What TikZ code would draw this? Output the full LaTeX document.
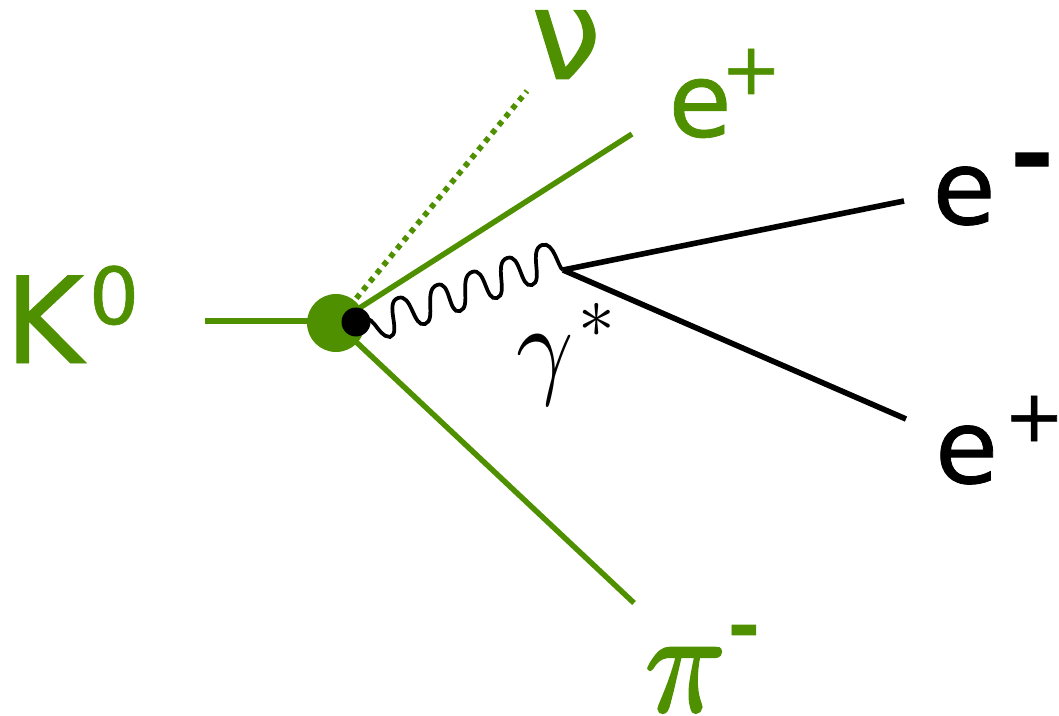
\documentclass[tikz,border=0pt]{standalone}
\usepackage{fontspec}
\setmainfont[FakeBold=0.8]{DejaVu Sans}
\newfontfamily\pifont[FakeBold=2]{Latin Modern Math}
\usetikzlibrary{calc}
\definecolor{lep}{HTML}{4F9000}
\tikzset{
  x=0.75pt,y=-0.75pt,
  fline/.style={draw=lep,line width=4.1pt},
  bline/.style={draw=black,line width=4.2pt},
  dotline/.style={draw=lep,line width=4.2pt,dash pattern=on 4pt off 4pt},
  wave/.style={draw=black,line width=2.8pt},
  lbl/.style={inner sep=0pt,outer sep=0pt,anchor=base west},
  glab/.style={lbl,text=lep,font=\fontsize{77}{77}\selectfont},
  gsup/.style={lbl,text=lep,font=\fontsize{54}{54}\selectfont},
  klab/.style={lbl,text=black,font=\fontsize{77}{77}\selectfont},
  ksup/.style={lbl,text=black,font=\fontsize{54}{54}\selectfont},
}
\begin{document}
\begin{tikzpicture}
\useasboundingbox (0,0) rectangle (1059,716);
\clip (0,0) rectangle (1059,716);
\coordinate (kin) at (205,321);
\coordinate (eplusend) at (632,134);
\coordinate (piend) at (634,603);
\coordinate (nuend) at (527,91);
\coordinate (gv) at (563,270);
\coordinate (eminusend) at (904,201);
\coordinate (eplusendb) at (906,419);
\node[circle,fill=lep,minimum size=43.5pt,inner sep=0pt] (blob) at (336,323) {};
\draw[fline] (kin) -- (kin -| blob.center);
\draw[fline] (blob.center) -- (eplusend);
\draw[fline] (blob.center) -- (piend);
\draw[dotline] (blob.center) -- (nuend);
\node[circle,fill=black,minimum size=21.75pt,inner sep=0pt] (core) at (356,322) {};
\draw[wave] (core.center) .. controls (374,308) and (376,337) .. (390,337)
  .. controls +(12,-4) and +(-14,5) .. (398,298)
  .. controls +(14,-5) and +(-12,4) .. (425,324)
  .. controls +(12,-4) and +(-14,5) .. (437,285)
  .. controls +(14,-5) and +(-12,4) .. (460,311)
  .. controls +(12,-4) and +(-14,5) .. (472,272)
  .. controls +(14,-5) and +(-12,4) .. (497,298)
  .. controls +(12,-4) and +(-14,5) .. (507,258)
  .. controls +(14,-5) and +(-12,4) .. (532,285)
  .. controls +(12,-4) and +(-14,5) .. (542,245)
  .. controls +(12,-4) and +(-5,-2) .. (gv);
\draw[bline] (gv) -- (eminusend);
\draw[bline] (gv) -- (eplusendb);
\node[lbl,text=lep,font=\fontsize{90}{90}\selectfont] (K) at (5,363) {K};
\node[lbl,text=lep,font=\fontsize{59}{59}\selectfont] (K0) at (89,324) {0};
\node[lbl,text=lep,font=\fontsize{94}{94}\selectfont] (nu) at (531,79) {ν};
\node[glab] (ep) at (668.5,136.5) {e};
\node[gsup] (epp) at (721,94) {+};
\node[klab] (em) at (932.5,224) {e};
\node[lbl,font=\fontsize{91.5}{91.5}\selectfont] (emm) at (1010,204) {\scalebox{1}[1.33]{-}};
\node[klab] (eb) at (935,483) {e};
\node[ksup] (ebp) at (1004,441) {+};
\node[lbl,text=lep,font=\pifont\fontsize{77}{77}\selectfont] (pi) at (645,711) {\scalebox{1.3}[1.42]{𝜋}};
\node[lbl,text=lep,font=\fontsize{68}{68}\selectfont] (pim) at (727.5,664) {\scalebox{1}[1.37]{-}};
\node[inner sep=0pt] (g) at (545,370) {\scalebox{7.5}[8.4]{$\gamma$}};
\node[inner sep=0pt] (star) at (597,320) {\scalebox{5.5}{$*$}};
\end{tikzpicture}
\end{document}
